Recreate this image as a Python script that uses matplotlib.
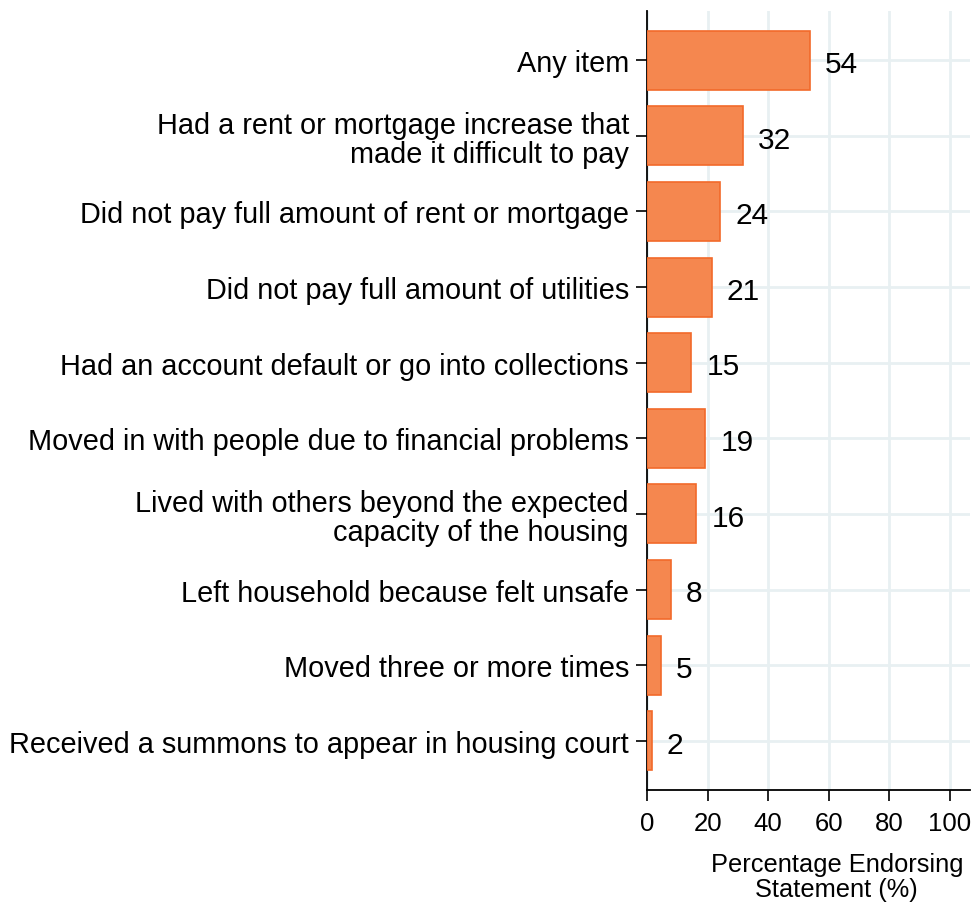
import numpy as np
import matplotlib.pyplot as plt

plt.rcParams['font.family'] = ['Liberation Sans', 'DejaVu Sans']

# items, top to bottom
items = [
    'Any item',
    'Had a rent or mortgage increase that\nmade it difficult to pay',
    'Did not pay full amount of rent or mortgage',
    'Did not pay full amount of utilities',
    'Had an account default or go into collections',
    'Moved in with people due to financial problems',
    'Lived with others beyond the expected\ncapacity of the housing',
    'Left household because felt unsafe',
    'Moved three or more times',
    'Received a summons to appear in housing court',
]
pct = [53.8, 31.7, 24.2, 21.3, 14.6, 19.2, 16.3, 7.8, 4.6, 1.6]
xticks = [0, 20, 40, 60, 80, 100]

fig = plt.figure(figsize=(9.72, 9.03), dpi=100)
ax = fig.add_axes([647 / 972, 1 - 791 / 903, (970 - 647) / 972, (791 - 12) / 903])

y = np.arange(len(items))
ax.barh(y, pct, height=0.78, color='#F5874F', edgecolor='#F26A2A', linewidth=1.2, zorder=3)

for yi, v in zip(y, pct):
    ax.text(v + 5.0, yi + 0.05, '%d' % round(v), va='center', ha='left', fontsize=21.5, zorder=4)

ax.set_yticks(y)
ax.set_yticklabels(items, fontsize=20.8, linespacing=1.05)
ax.set_ylim(len(items) - 0.35, -0.65)
ax.set_xlim(0, 106.6)
ax.set_xticks(xticks)
ax.tick_params(axis='x', labelsize=18.5, length=8, width=1.2, pad=7)
ax.tick_params(axis='y', length=8, width=1.2, pad=5)

ax.grid(True, color='#E8F0F2', linewidth=2, zorder=0)
ax.set_axisbelow(True)
for s in ['top', 'right']:
    ax.spines[s].set_visible(False)
for s in ['left', 'bottom']:
    ax.spines[s].set_linewidth(1.3)

fig.text(837 / 972, 1 - 872 / 903, 'Percentage Endorsing', ha='center', va='baseline', fontsize=18.3)
fig.text(836 / 972, 1 - 897 / 903, 'Statement (%)', ha='center', va='baseline', fontsize=18.3)

fig.savefig('out.png', dpi=100)
